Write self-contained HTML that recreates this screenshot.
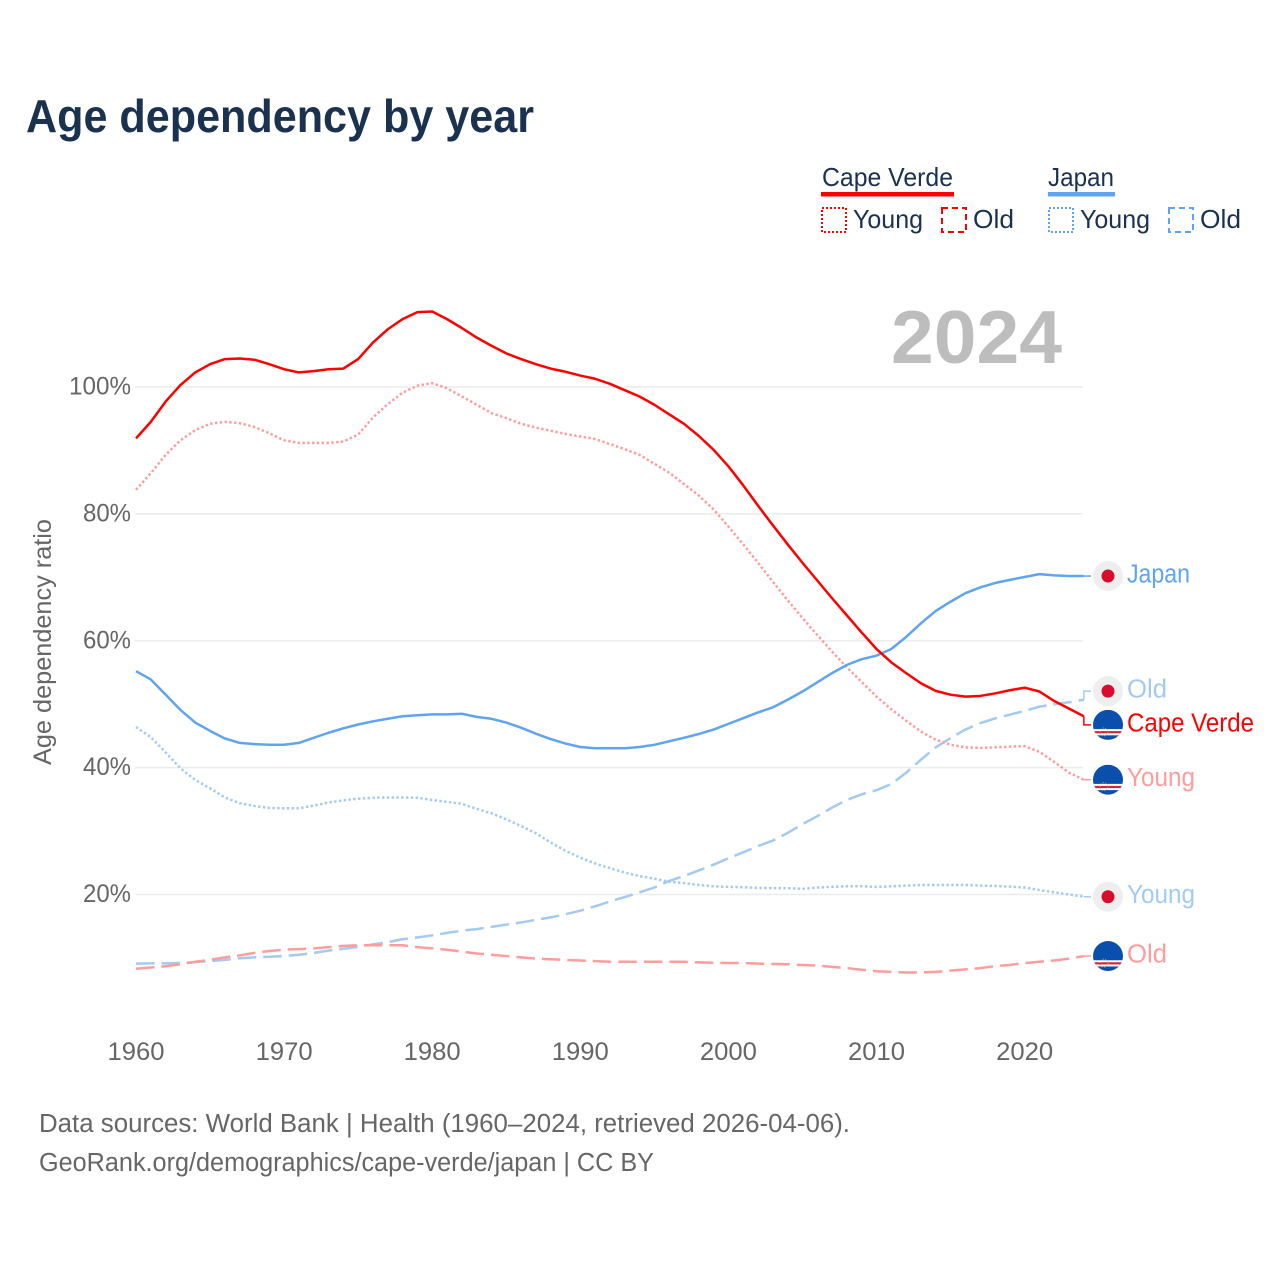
<!DOCTYPE html>
<html lang="en">
<head>
<meta charset="utf-8">
<title>Age dependency by year</title>
<style>
html,body{margin:0;padding:0;background:#fff;}
svg{display:block;font-family:"Liberation Sans",sans-serif;}
</style>
</head>
<body>
<svg id="chart" xmlns="http://www.w3.org/2000/svg" width="1280" height="1280" viewBox="0 0 1280 1280">
  <rect x="0" y="0" width="1280" height="1280" fill="#ffffff"/>
  <text x="26" y="132" font-size="46" font-weight="700" fill="#1a3150" textLength="508" lengthAdjust="spacingAndGlyphs">Age dependency by year</text>

  <g font-size="26" fill="#1a3150">
    <text x="822" y="186" textLength="131" lengthAdjust="spacingAndGlyphs">Cape Verde</text>
    <rect x="821" y="192" width="133" height="4.5" fill="#ff0000"/>
    <rect x="822" y="208" width="24" height="24" fill="none" stroke="#ff0000" stroke-width="2" stroke-dasharray="2 2"/>
    <text x="853" y="228" textLength="70" lengthAdjust="spacingAndGlyphs">Young</text>
    <rect x="942" y="208" width="24" height="24" fill="none" stroke="#ff0000" stroke-width="2" stroke-dasharray="6 4"/>
    <text x="973" y="228" textLength="41" lengthAdjust="spacingAndGlyphs">Old</text>

    <text x="1048" y="186" textLength="66" lengthAdjust="spacingAndGlyphs">Japan</text>
    <rect x="1048" y="192" width="67" height="4.5" fill="#5fa4ee"/>
    <rect x="1049" y="208" width="24" height="24" fill="none" stroke="#5fa4ee" stroke-width="2" stroke-dasharray="2 2"/>
    <text x="1080" y="228" textLength="70" lengthAdjust="spacingAndGlyphs">Young</text>
    <rect x="1169" y="208" width="24" height="24" fill="none" stroke="#5fa4ee" stroke-width="2" stroke-dasharray="6 4"/>
    <text x="1200" y="228" textLength="41" lengthAdjust="spacingAndGlyphs">Old</text>
  </g>

  <g id="grid"></g>
  <g id="yticks"></g>
  <g id="xticks"></g>

  <text transform="translate(51,642) rotate(-90)" text-anchor="middle" font-size="25" fill="#666666" textLength="246" lengthAdjust="spacingAndGlyphs">Age dependency ratio</text>
  <text x="891" y="363" font-size="75" font-weight="700" fill="#bdbdbd" textLength="171" lengthAdjust="spacingAndGlyphs">2024</text>

  <g id="series"></g>
  <g id="endlabels"></g>

  <text x="39" y="1132" font-size="25.5" fill="#666666" textLength="811" lengthAdjust="spacingAndGlyphs">Data sources: World Bank | Health (1960–2024, retrieved 2026-04-06).</text>
  <text x="39" y="1171" font-size="25.5" fill="#666666" textLength="615" lengthAdjust="spacingAndGlyphs">GeoRank.org/demographics/cape-verde/japan | CC BY</text>
</svg>

<script>
const years = [1960,1961,1962,1963,1964,1965,1966,1967,1968,1969,1970,1971,1972,1973,1974,1975,1976,1977,1978,1979,1980,1981,1982,1983,1984,1985,1986,1987,1988,1989,1990,1991,1992,1993,1994,1995,1996,1997,1998,1999,2000,2001,2002,2003,2004,2005,2006,2007,2008,2009,2010,2011,2012,2013,2014,2015,2016,2017,2018,2019,2020,2021,2022,2023,2024];

const capeVerdeTotal = [91.9,94.5,97.7,100.3,102.3,103.6,104.4,104.5,104.3,103.6,102.8,102.3,102.5,102.8,102.9,104.4,107.0,109.1,110.7,111.8,111.9,110.7,109.3,107.8,106.5,105.3,104.4,103.6,102.9,102.4,101.8,101.3,100.5,99.5,98.5,97.2,95.7,94.2,92.3,90.1,87.5,84.5,81.3,78.2,75.2,72.3,69.5,66.7,64.0,61.3,58.7,56.6,54.9,53.3,52.1,51.5,51.2,51.3,51.7,52.2,52.6,52.0,50.5,49.3,48.1];

const capeVerdeYoung = [83.8,86.4,89.3,91.6,93.2,94.2,94.5,94.3,93.7,92.7,91.6,91.2,91.2,91.2,91.4,92.5,95.2,97.3,99.1,100.2,100.6,99.8,98.5,97.2,95.9,95.1,94.2,93.6,93.1,92.6,92.2,91.8,91.0,90.2,89.3,87.9,86.5,84.7,82.9,80.7,78.0,75.2,72.3,69.3,66.4,63.6,60.9,58.3,55.8,53.5,51.2,49.2,47.4,45.7,44.4,43.6,43.2,43.1,43.2,43.3,43.4,42.5,40.9,39.2,38.1];

const capeVerdeOld = [8.3,8.5,8.7,9.0,9.4,9.7,10.1,10.4,10.8,11.1,11.3,11.4,11.5,11.7,11.9,12.0,12.0,12.0,12.0,11.7,11.5,11.3,11.0,10.7,10.5,10.3,10.1,9.9,9.8,9.7,9.6,9.5,9.4,9.4,9.4,9.4,9.4,9.4,9.3,9.25,9.2,9.2,9.1,9.05,9.0,8.9,8.8,8.6,8.4,8.15,7.9,7.8,7.7,7.7,7.8,8.0,8.2,8.4,8.7,8.9,9.2,9.4,9.6,9.9,10.3];

const japanTotal = [55.2,53.9,51.5,49.1,47.1,45.8,44.6,43.9,43.7,43.6,43.6,43.9,44.7,45.5,46.2,46.8,47.3,47.7,48.1,48.25,48.4,48.4,48.5,48.0,47.7,47.1,46.3,45.35,44.5,43.8,43.25,43.05,43.05,43.05,43.25,43.6,44.15,44.7,45.3,46.0,46.9,47.8,48.7,49.5,50.7,52.0,53.45,54.9,56.2,57.1,57.65,58.7,60.6,62.75,64.7,66.15,67.5,68.4,69.1,69.6,70.05,70.5,70.3,70.2,70.2];

const japanYoung = [46.4,44.8,42.4,39.9,38.05,36.75,35.3,34.4,33.95,33.65,33.6,33.6,34.0,34.5,34.85,35.1,35.25,35.3,35.3,35.25,34.9,34.6,34.3,33.5,32.8,31.85,30.8,29.65,28.2,26.9,25.8,24.9,24.15,23.45,22.9,22.5,22.0,21.8,21.5,21.3,21.2,21.15,21.05,21.0,21.0,20.9,21.1,21.2,21.3,21.3,21.2,21.3,21.4,21.5,21.5,21.5,21.5,21.4,21.35,21.25,21.1,20.7,20.35,20.0,19.65];

const japanOld = [9.1,9.15,9.15,9.2,9.35,9.5,9.7,9.95,10.1,10.2,10.3,10.5,10.8,11.15,11.45,11.75,12.15,12.5,12.95,13.25,13.55,13.95,14.3,14.55,14.9,15.25,15.6,16.0,16.4,16.9,17.45,18.15,18.9,19.6,20.35,21.1,22.15,22.9,23.8,24.7,25.7,26.65,27.65,28.5,29.7,31.1,32.35,33.7,34.9,35.8,36.45,37.4,39.2,41.25,43.2,44.65,46.0,47.0,47.75,48.35,48.95,49.6,50.0,50.3,50.7];

const yTickValues = [20,40,60,80,100];
const yTickLabels = ['20%','40%','60%','80%','100%'];
const xTickValues = [1960,1970,1980,1990,2000,2010,2020];
const xTickLabels = ['1960','1970','1980','1990','2000','2010','2020'];

const NS = 'http://www.w3.org/2000/svg';
const PX_PER_YEAR = 14.81, PX_PER_PCT = 6.344;
function xScale(year){ return 136 + (year - 1960) * PX_PER_YEAR; }
function yScale(v){ return 1021.4 - v * PX_PER_PCT; }
function make(tag, attrs, parent){
  const el = document.createElementNS(NS, tag);
  for (const k in attrs) el.setAttribute(k, attrs[k]);
  parent.appendChild(el);
  return el;
}

const RED = '#ff0000', RED_L = '#ff9c9c', BLUE = '#5fa4ee', BLUE_L = '#a3caf3';
const DOT = '2.4 2.4', DASH = '18.5 7';

const seriesList = [
  {key:'japan-young', label:'Young', country:'japan', values:japanYoung, color:BLUE_L, dash:DOT, w:2.5, tw:68},
  {key:'japan-old', label:'Old', country:'japan', values:japanOld, color:BLUE_L, dash:DASH, w:2.5, tw:40},
  {key:'cape-verde-young', label:'Young', country:'cv', values:capeVerdeYoung, color:RED_L, dash:DOT, w:2.5, tw:68},
  {key:'cape-verde-old', label:'Old', country:'cv', values:capeVerdeOld, color:RED_L, dash:DASH, w:2.5, tw:40},
  {key:'japan-total', label:'Japan', country:'japan', values:japanTotal, color:BLUE, dash:null, w:2.5, tw:63},
  {key:'cape-verde-total', label:'Cape Verde', country:'cv', values:capeVerdeTotal, color:RED, dash:null, w:2.5, tw:127}
];

/* gridlines and axis labels */
const gridG = document.getElementById('grid');
const yG = document.getElementById('yticks');
const xG = document.getElementById('xticks');
yTickValues.forEach(function(v, i){
  const line = make('line', {x1:135, x2:1083, y1:yScale(v), y2:yScale(v), stroke:'#ececec', 'stroke-width':1.5}, gridG);
  
  
  const widthPx = yTickLabels[i].length === 4 ? 62 : 48;
  const t = make('text', {x:131 - widthPx, y:yScale(v) + 7.5, 'font-size':25, fill:'#666666', textLength:widthPx, lengthAdjust:'spacingAndGlyphs'}, yG);
  
  
  t.textContent = yTickLabels[i];
});
xTickValues.forEach(function(v, i){
  const t = make('text', {x:xScale(v) - 28.5, y:1060, 'font-size':25, fill:'#666666', textLength:57, lengthAdjust:'spacingAndGlyphs'}, xG);
  
  
  t.textContent = xTickLabels[i];
});

/* series lines */
const seriesG = document.getElementById('series');
seriesList.forEach(function(s){
  const d = s.values.map(function(v, i){ return xScale(years[i]).toFixed(2) + ',' + yScale(v).toFixed(2); }).join(' ');
  const attrs = {points:d, fill:'none', stroke:s.color, 'stroke-width':s.w, 'stroke-linejoin':'round'};
  if (s.dash) attrs['stroke-dasharray'] = s.dash;
  const pl = make('polyline', attrs, seriesG);
  
  
});

/* end labels: dodge overlapping labels, then draw connector, flag, text */
const MIN_SEP = 33.8;
const ordered = seriesList.map(function(s){
  return {s:s, end:yScale(s.values[s.values.length - 1])};
}).sort(function(a, b){ return a.end - b.end; });
ordered.forEach(function(o){ o.ly = o.end; });
for (let i = 1; i < ordered.length; i++){
  const a = ordered[i - 1], b = ordered[i];
  if (b.ly - a.ly < MIN_SEP){
    const mid = (a.ly + b.ly) / 2;
    a.ly = mid - MIN_SEP / 2;
    b.ly = mid + MIN_SEP / 2;
  }
}
const labelG = document.getElementById('endlabels');
const xEnd = xScale(years[years.length - 1]);
ordered.forEach(function(o, idx){
  const s = o.s;
  const conn = make('polyline', {
    points: xEnd + ',' + o.end + ' ' + xEnd + ',' + o.ly + ' 1091,' + o.ly,
    fill:'none', stroke:s.color, 'stroke-width':1.5
  }, labelG);
  
  

  const flag = make('g', {transform:'translate(1108,' + o.ly + ')'}, labelG);
  
  
  if (s.country === 'japan'){
    make('circle', {r:15, fill:'#eeeeee'}, flag);
    make('circle', {r:6.5, fill:'#d80c2f'}, flag);
  } else {
    const clip = make('clipPath', {id:'cv-clip-' + idx}, flag);
    make('circle', {r:15}, clip);
    const inner = make('g', {'clip-path':'url(#cv-clip-' + idx + ')'}, flag);
    make('rect', {x:-15, y:-15, width:30, height:30, fill:'#0b4fad'}, inner);
    make('rect', {x:-15, y:4.2, width:30, height:6.2, fill:'#ffffff'}, inner);
    make('rect', {x:-15, y:6.2, width:30, height:2.2, fill:'#d6233c'}, inner);
    make('circle', {cx:-4, cy:7, r:4, fill:'none', stroke:'#d9c45a', 'stroke-width':0.8, 'stroke-dasharray':'1 1.5'}, inner);
  }

  const t = make('text', {x:1127, y:o.ly + 6.5, 'font-size':25.5, fill:s.color, textLength:s.tw, lengthAdjust:'spacingAndGlyphs'}, labelG);
  
  
  t.textContent = s.label;
});
</script>
</body>
</html>
